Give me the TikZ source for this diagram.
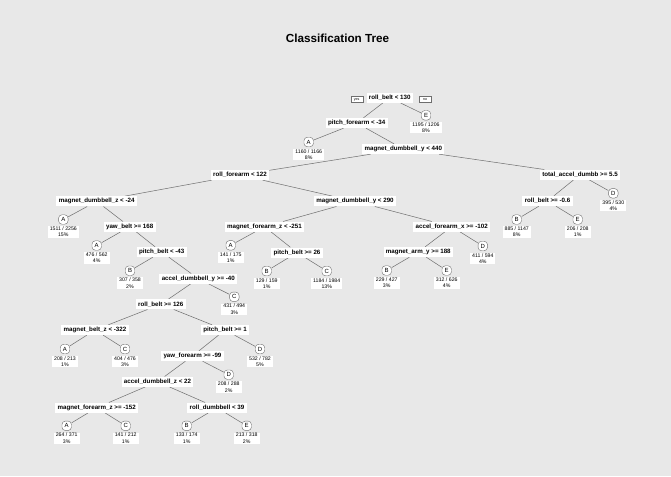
\documentclass[tikz,border=0pt]{standalone}
\usepackage{fontspec}
\setmainfont{Liberation Sans}
\usetikzlibrary{positioning,backgrounds}
\definecolor{panelgray}{RGB}{232,232,232}
\definecolor{edgegray}{RGB}{110,110,110}
\tikzset{
  split/.style={rectangle,fill=white,inner xsep=2.4pt,inner ysep=0pt,
                minimum height=10pt,font=\fontsize{6.2}{7.4}\selectfont\bfseries},
  leaf/.style={rectangle,rounded corners=3.5pt,draw=edgegray,fill=white,
               minimum width=9.5pt,minimum height=9.5pt,inner sep=0.5pt,
               font=\fontsize{6}{7}\selectfont},
  count/.style={rectangle,fill=white,align=center,inner xsep=2pt,inner ysep=0.6pt,
                font=\fontsize{5.2}{6.3}\selectfont},
  yesno/.style={rectangle,draw=edgegray,fill=white,minimum width=12pt,
                minimum height=6pt,inner sep=0.5pt,font=\fontsize{3.6}{4}\selectfont},
  branch/.style={draw=edgegray,line width=0.5pt},
  title/.style={font=\fontsize{11.7}{14}\selectfont\bfseries},
}
\begin{document}
\begin{tikzpicture}[x=1pt,y=-1pt]
  \begin{scope}[on background layer]
    \fill[panelgray] (0,0) rectangle (671,476);
  \end{scope}
  \useasboundingbox (0,0) rectangle (671,476);
  \node[title] (title) at (337.5,38) {Classification Tree};

  % splits
  \node[split] (root) at (389.7,97.7) {roll\_belt < 130};
  \node[split] (pfore) at (356.7,123) {pitch\_forearm < -34};
  \node[split] (mdby440) at (403.3,149) {magnet\_dumbbell\_y < 440};
  \node[split] (rfore) at (240,175) {roll\_forearm < 122};
  \node[split] (tad) at (580,174.7) {total\_accel\_dumbb >= 5.5};
  \node[split] (mdbz) at (96.7,201.3) {magnet\_dumbbell\_z < -24};
  \node[split] (mdby290) at (355,201.3) {magnet\_dumbbell\_y < 290};
  \node[split] (rbelt06) at (547.5,201) {roll\_belt >= -0.6};
  \node[split] (yawb) at (129.7,226.7) {yaw\_belt >= 168};
  \node[split] (mforez251) at (264.5,226.7) {magnet\_forearm\_z < -251};
  \node[split] (aforex) at (451.7,226.7) {accel\_forearm\_x >= -102};
  \node[split] (pbelt43) at (161.7,252) {pitch\_belt < -43};
  \node[split] (pbelt26) at (297,252.5) {pitch\_belt >= 26};
  \node[split] (marmy) at (418.3,252) {magnet\_arm\_y >= 188};
  \node[split] (adby) at (198.3,278.7) {accel\_dumbbell\_y >= -40};
  \node[split] (rbelt126) at (160.8,304.3) {roll\_belt >= 126};
  \node[split] (mbeltz) at (95,330) {magnet\_belt\_z < -322};
  \node[split] (pbelt1) at (225,330) {pitch\_belt >= 1};
  \node[split] (yawf) at (192.5,356) {yaw\_forearm >= -99};
  \node[split] (adbz) at (157.5,381.7) {accel\_dumbbell\_z < 22};
  \node[split] (mforez152) at (96.7,407.7) {magnet\_forearm\_z >= -152};
  \node[split] (rdb) at (217,407.7) {roll\_dumbbell < 39};

  % leaves with counts
  \foreach \name/\x/\y/\cls/\num/\den/\pct in {
      rootR/426/115.3/E/1195/1206/8, pforeL/308.7/142/A/1160/1166/8,
      mdbzL/63.3/219.5/A/1511/2256/15, yawbL/96.7/245.5/A/476/562/4,
      pbelt43L/130/270.7/B/307/358/2, adbyR/234.3/296.8/C/431/494/3,
      mbeltzL/65/349/A/208/213/1, mbeltzR/125/349/C/404/476/3,
      pbelt1R/260/349/D/532/782/5, yawfR/228.7/374.7/D/208/288/2,
      mforez152L/66.7/425.8/A/264/371/3, mforez152R/125.7/425.8/C/141/212/1,
      rdbL/186.7/425.8/B/133/174/1, rdbR/246.7/425.8/E/213/318/2,
      mforez251L/230.7/245.3/A/141/175/1, pbelt26L/266.7/271/B/129/159/1,
      pbelt26R/326.7/271/C/1184/1984/13, marmyL/386.7/270.5/B/229/427/3,
      marmyR/446.7/270.5/E/312/626/4, aforexR/482.8/246/D/411/594/4,
      rbelt06L/516.7/219.5/B/885/1147/8, rbelt06R/577.7/219.5/E/206/208/1,
      tadR/613.3/193.3/D/395/530/4} {
    \node[leaf] (\name) at (\x,\y) {\cls};
    \node[count,below=1.6pt of \name] (\name-n) {\num\ / \den\\\pct\%};
  }

  \begin{scope}[on background layer]
    \foreach \p/\c in {root/pfore, root/rootR, pfore/pforeL, pfore/mdby440,
        mdby440/rfore, mdby440/tad, rfore/mdbz, rfore/mdby290,
        mdbz/mdbzL, mdbz/yawb, yawb/yawbL, yawb/pbelt43,
        pbelt43/pbelt43L, pbelt43/adby, adby/rbelt126, adby/adbyR,
        rbelt126/mbeltz, rbelt126/pbelt1, mbeltz/mbeltzL, mbeltz/mbeltzR,
        pbelt1/yawf, pbelt1/pbelt1R, yawf/adbz, yawf/yawfR,
        adbz/mforez152, adbz/rdb, mforez152/mforez152L, mforez152/mforez152R,
        rdb/rdbL, rdb/rdbR, mdby290/mforez251, mdby290/aforex,
        mforez251/mforez251L, mforez251/pbelt26, pbelt26/pbelt26L, pbelt26/pbelt26R,
        aforex/marmy, aforex/aforexR, marmy/marmyL, marmy/marmyR,
        tad/rbelt06, tad/tadR, rbelt06/rbelt06L, rbelt06/rbelt06R}
      \draw[branch] (\p) -- (\c);
  \end{scope}

  \node[yesno] (yes) at (356.7,99.7) {yes};
  \node[yesno] (no) at (425,99.7) {no};
\end{tikzpicture}
\end{document}
